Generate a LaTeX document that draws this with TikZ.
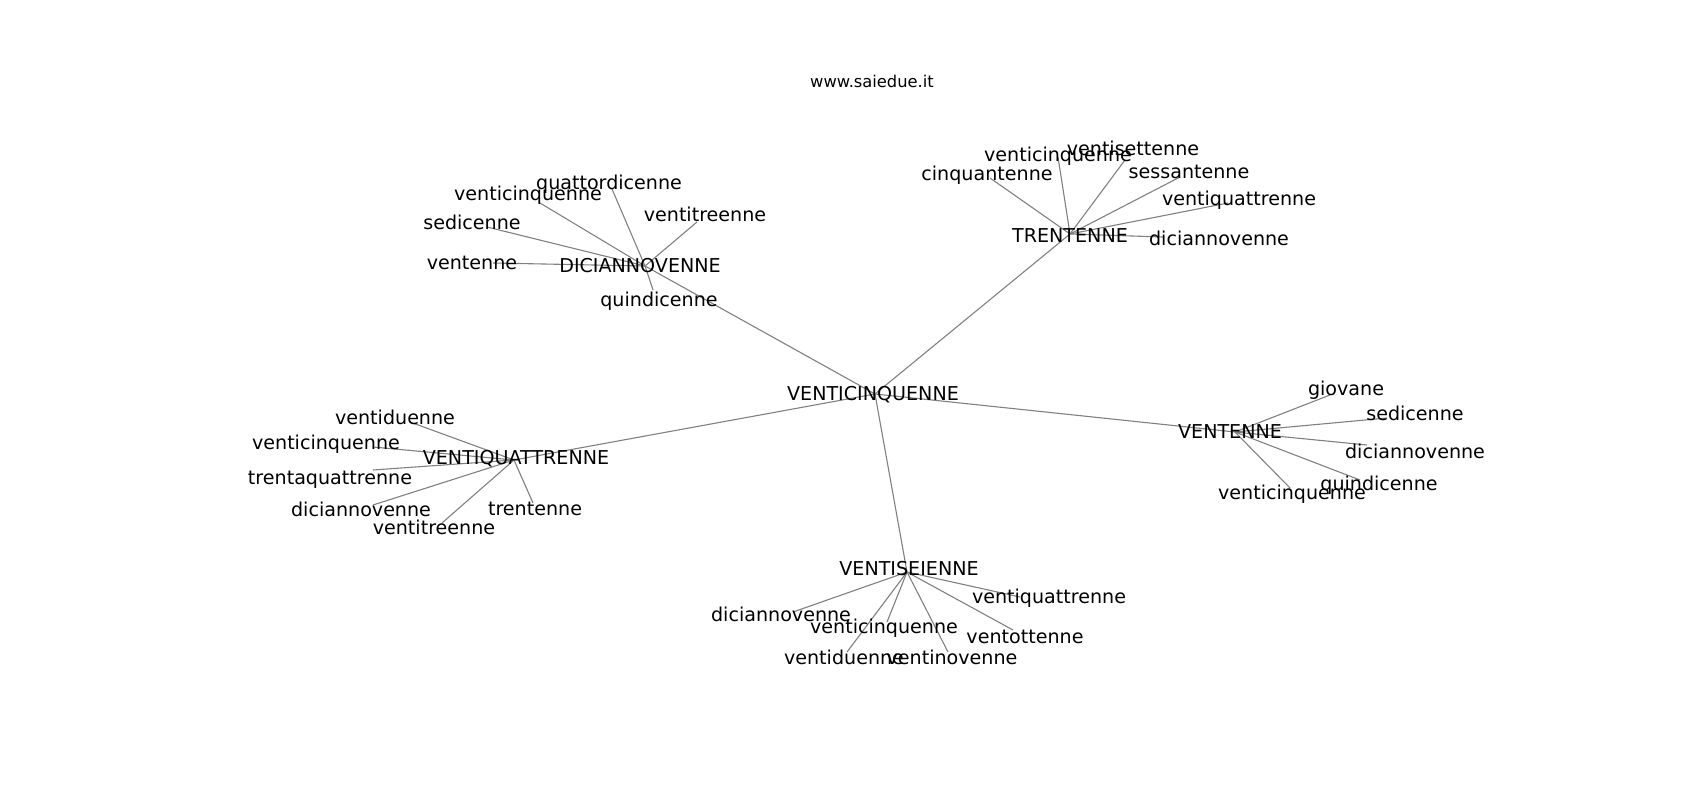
\documentclass[tikz,border=0pt]{standalone}
\usepackage{fontspec}
\setmainfont{DejaVu Sans}
\usepackage{tikz}

\begin{document}
\begin{tikzpicture}[x=1pt,y=-1pt]
% Define common styles
\tikzset{
    word/.style={anchor=base, inner sep=0pt, font=\fontsize{19.1}{23}\selectfont},
    site/.style={anchor=base, inner sep=0pt, font=\fontsize{16.3}{20}\selectfont},
    edge/.style={draw=gray, line width=1.1pt}
}
\useasboundingbox (0,0) rectangle (1700,800);

% Graph points
\coordinate (c) at (875,394);
\coordinate (d) at (645,266);
\coordinate (t) at (1070,234);
\coordinate (q) at (514,460);
\coordinate (v) at (1235,432);
\coordinate (s) at (907,572);

\coordinate (d1) at (612,189);
\coordinate (d2) at (540,203);
\coordinate (d3) at (697,222);
\coordinate (d4) at (487,227);
\coordinate (d5) at (493,263);
\coordinate (d6) at (653,290);

\coordinate (t1) at (990,178);
\coordinate (t2) at (1058,157);
\coordinate (t3) at (1125,160);
\coordinate (t4) at (1180,177);
\coordinate (t5) at (1228,203);
\coordinate (t6) at (1163,237);

\coordinate (q1) at (410,422);
\coordinate (q2) at (373,447);
\coordinate (q3) at (373,470);
\coordinate (q4) at (373,505);
\coordinate (q5) at (442,523);
\coordinate (q6) at (533,503);

\coordinate (v1) at (1330,395);
\coordinate (v2) at (1387,418);
\coordinate (v3) at (1367,445);
\coordinate (v4) at (1360,480);
\coordinate (v5) at (1290,488);

\coordinate (s1) at (793,612);
\coordinate (s2) at (1020,597);
\coordinate (s3) at (887,622);
\coordinate (s4) at (1013,630);
\coordinate (s5) at (847,652);
\coordinate (s6) at (948,652);

% Edges
\foreach \x in {d,t,q,v,s} \draw[edge] (c) -- (\x);
\foreach \x in {1,...,6} \draw[edge] (d) -- (d\x);
\foreach \x in {1,...,6} \draw[edge] (t) -- (t\x);
\foreach \x in {1,...,6} \draw[edge] (q) -- (q\x);
\foreach \x in {1,...,5} \draw[edge] (v) -- (v\x);
\foreach \x in {1,...,6} \draw[edge] (s) -- (s\x);

% Labels
\node[word] (c-l) at (873,400) {VENTICINQUENNE};
\node[word] (d-l) at (640,272) {DICIANNOVENNE};
\node[word] (t-l) at (1070,242) {TRENTENNE};
\node[word] (q-l) at (516,464) {VENTIQUATTRENNE};
\node[word] (v-l) at (1230,438) {VENTENNE};
\node[word] (s-l) at (909,575) {VENTISEIENNE};

\node[word] (d1-l) at (609,189) {quattordicenne};
\node[word] (d2-l) at (528,200) {venticinquenne};
\node[word] (d3-l) at (705,221) {ventitreenne};
\node[word] (d4-l) at (472,229) {sedicenne};
\node[word] (d5-l) at (472,269) {ventenne};
\node[word] (d6-l) at (659,306) {quindicenne};

\node[word] (t1-l) at (987,180) {cinquantenne};
\node[word] (t2-l) at (1058,161) {venticinquenne};
\node[word] (t3-l) at (1133,155) {ventisettenne};
\node[word] (t4-l) at (1189,178) {sessantenne};
\node[word] (t5-l) at (1239,205) {ventiquattrenne};
\node[word] (t6-l) at (1219,245) {diciannovenne};

\node[word] (q1-l) at (395,424) {ventiduenne};
\node[word] (q2-l) at (326,449) {venticinquenne};
\node[word] (q3-l) at (330,484) {trentaquattrenne};
\node[word] (q4-l) at (361,516) {diciannovenne};
\node[word] (q5-l) at (434,534) {ventitreenne};
\node[word] (q6-l) at (535,515) {trentenne};

\node[word] (v1-l) at (1346,395) {giovane};
\node[word] (v2-l) at (1415,420) {sedicenne};
\node[word] (v3-l) at (1415,458) {diciannovenne};
\node[word] (v4-l) at (1379,490) {quindicenne};
\node[word] (v5-l) at (1292,499) {venticinquenne};

\node[word] (s1-l) at (781,621) {diciannovenne};
\node[word] (s2-l) at (1049,603) {ventiquattrenne};
\node[word] (s3-l) at (884,633) {venticinquenne};
\node[word] (s4-l) at (1025,643) {ventottenne};
\node[word] (s5-l) at (844,664) {ventiduenne};
\node[word] (s6-l) at (952,664) {ventinovenne};

% Title
\node[site] (site) at (872,88) {www.saiedue.it};

\end{tikzpicture}
\end{document}
